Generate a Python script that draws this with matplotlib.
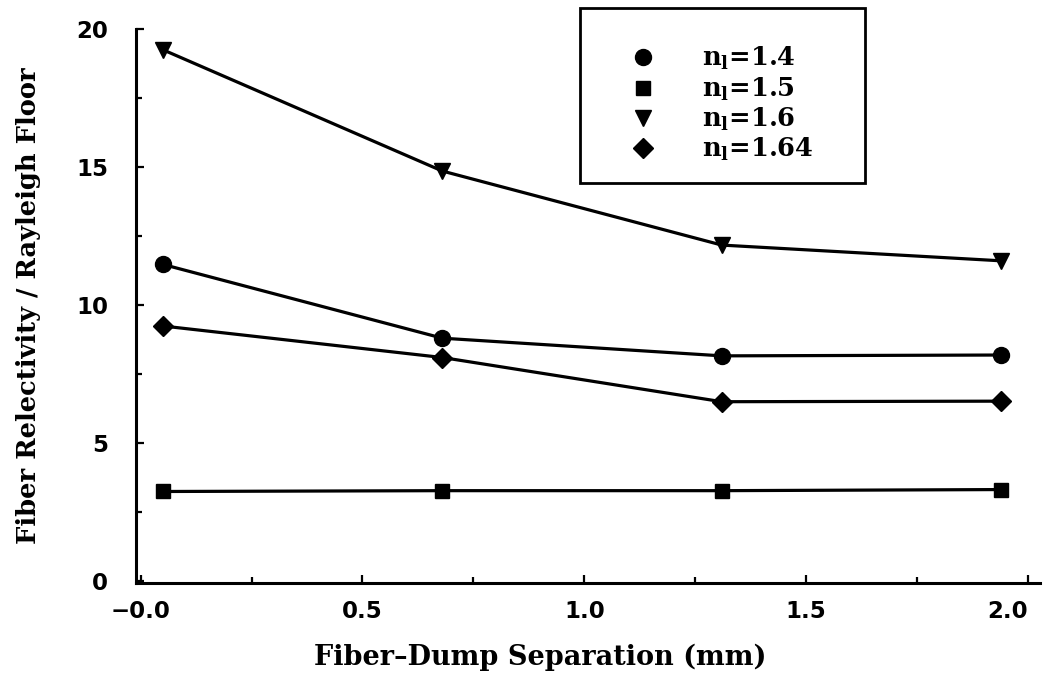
import matplotlib
matplotlib.use("Agg")
import matplotlib.pyplot as plt
from matplotlib.patches import Rectangle
from matplotlib.ticker import MultipleLocator, FixedLocator, FixedFormatter

# Fiber-dump separation (mm) and normalised fiber reflectivity per index
separation = [0.05, 0.68, 1.31, 1.94]
refl_n140 = [11.47, 8.80, 8.16, 8.19]
refl_n150 = [3.25, 3.28, 3.28, 3.32]
refl_n160 = [19.24, 14.85, 12.17, 11.60]
refl_n164 = [9.24, 8.10, 6.50, 6.52]

series_labels = [r"n$_\mathbf{l}$=1.4", r"n$_\mathbf{l}$=1.5",
                 r"n$_\mathbf{l}$=1.6", r"n$_\mathbf{l}$=1.64"]
xtick_values = [0.0, 0.5, 1.0, 1.5, 2.0]
xtick_labels = ["\u22120.0", "0.5", "1.0", "1.5", "2.0"]
ytick_values = [0, 5, 10, 15, 20]

plt.rcParams["mathtext.fontset"] = "dejavuserif"

W, H = 1045, 685
fig = plt.figure(figsize=(W / 100, H / 100), dpi=100)
ax = fig.add_axes([0.130, 0.149, 0.865, 0.809])

markers = ["o", "s", "v", "D"]
sizes = [11.5, 10, 11.5, 10.5]
handles = []
for ys, m, ms, lab in zip([refl_n140, refl_n150, refl_n160, refl_n164],
                          markers, sizes, series_labels):
    ax.plot(separation, ys, color="black", lw=2.3, zorder=2)
    h, = ax.plot(separation, ys, ls="none", marker=m, ms=ms, color="black",
                 label=lab, zorder=3)
    handles.append(h)

ax.set_xlim(-0.011, 2.027)
ax.set_ylim(-0.06, 20)

for side in ("top", "right"):
    ax.spines[side].set_visible(False)
for side in ("left", "bottom"):
    ax.spines[side].set_linewidth(2.2)

ax.xaxis.set_major_locator(FixedLocator(xtick_values))
ax.xaxis.set_major_formatter(FixedFormatter(xtick_labels))
ax.xaxis.set_minor_locator(MultipleLocator(0.25))
ax.yaxis.set_major_locator(FixedLocator(ytick_values))
ax.yaxis.set_minor_locator(MultipleLocator(2.5))

ax.tick_params(which="both", direction="in", width=1.6)
ax.tick_params(which="major", length=6)
ax.tick_params(which="minor", length=4)
ax.tick_params(axis="x", which="major", pad=12)
ax.tick_params(axis="y", which="major", pad=20)

for t in ax.get_xticklabels() + ax.get_yticklabels():
    t.set_fontfamily("DejaVu Sans")
    t.set_fontweight("bold")
    t.set_fontsize(16.5)
# keep the last x label inside the figure edge
xt = ax.get_xticklabels()
xt[-1].set_horizontalalignment("right")
xt[-1].set_x(2.0)

ax.set_xlabel("Fiber\u2013Dump Separation (mm)",
              family="DejaVu Serif", weight="bold", size=19.5)
ax.xaxis.set_label_coords(0.447, -0.11)
ax.set_ylabel("Fiber Relectivity / Rayleigh Floor", labelpad=25,
              family="DejaVu Serif", weight="bold", size=18.5)

# legend entries, with a separately drawn box around them
leg = fig.legend(handles=handles, loc="upper left",
                 bbox_to_anchor=(580 / W, 1 - 8 / H),
                 frameon=False,
                 prop=dict(family="DejaVu Serif", weight="bold", size=18.5),
                 handletextpad=1.3, borderpad=1.45, labelspacing=0.12,
                 handlelength=2.0, borderaxespad=0)
fig.add_artist(Rectangle((580 / W, 1 - 183 / H), 285 / W, 175 / H,
                         transform=fig.transFigure, fill=False,
                         edgecolor="black", linewidth=2.0))

fig.savefig("out.png", dpi=100, facecolor="white")
